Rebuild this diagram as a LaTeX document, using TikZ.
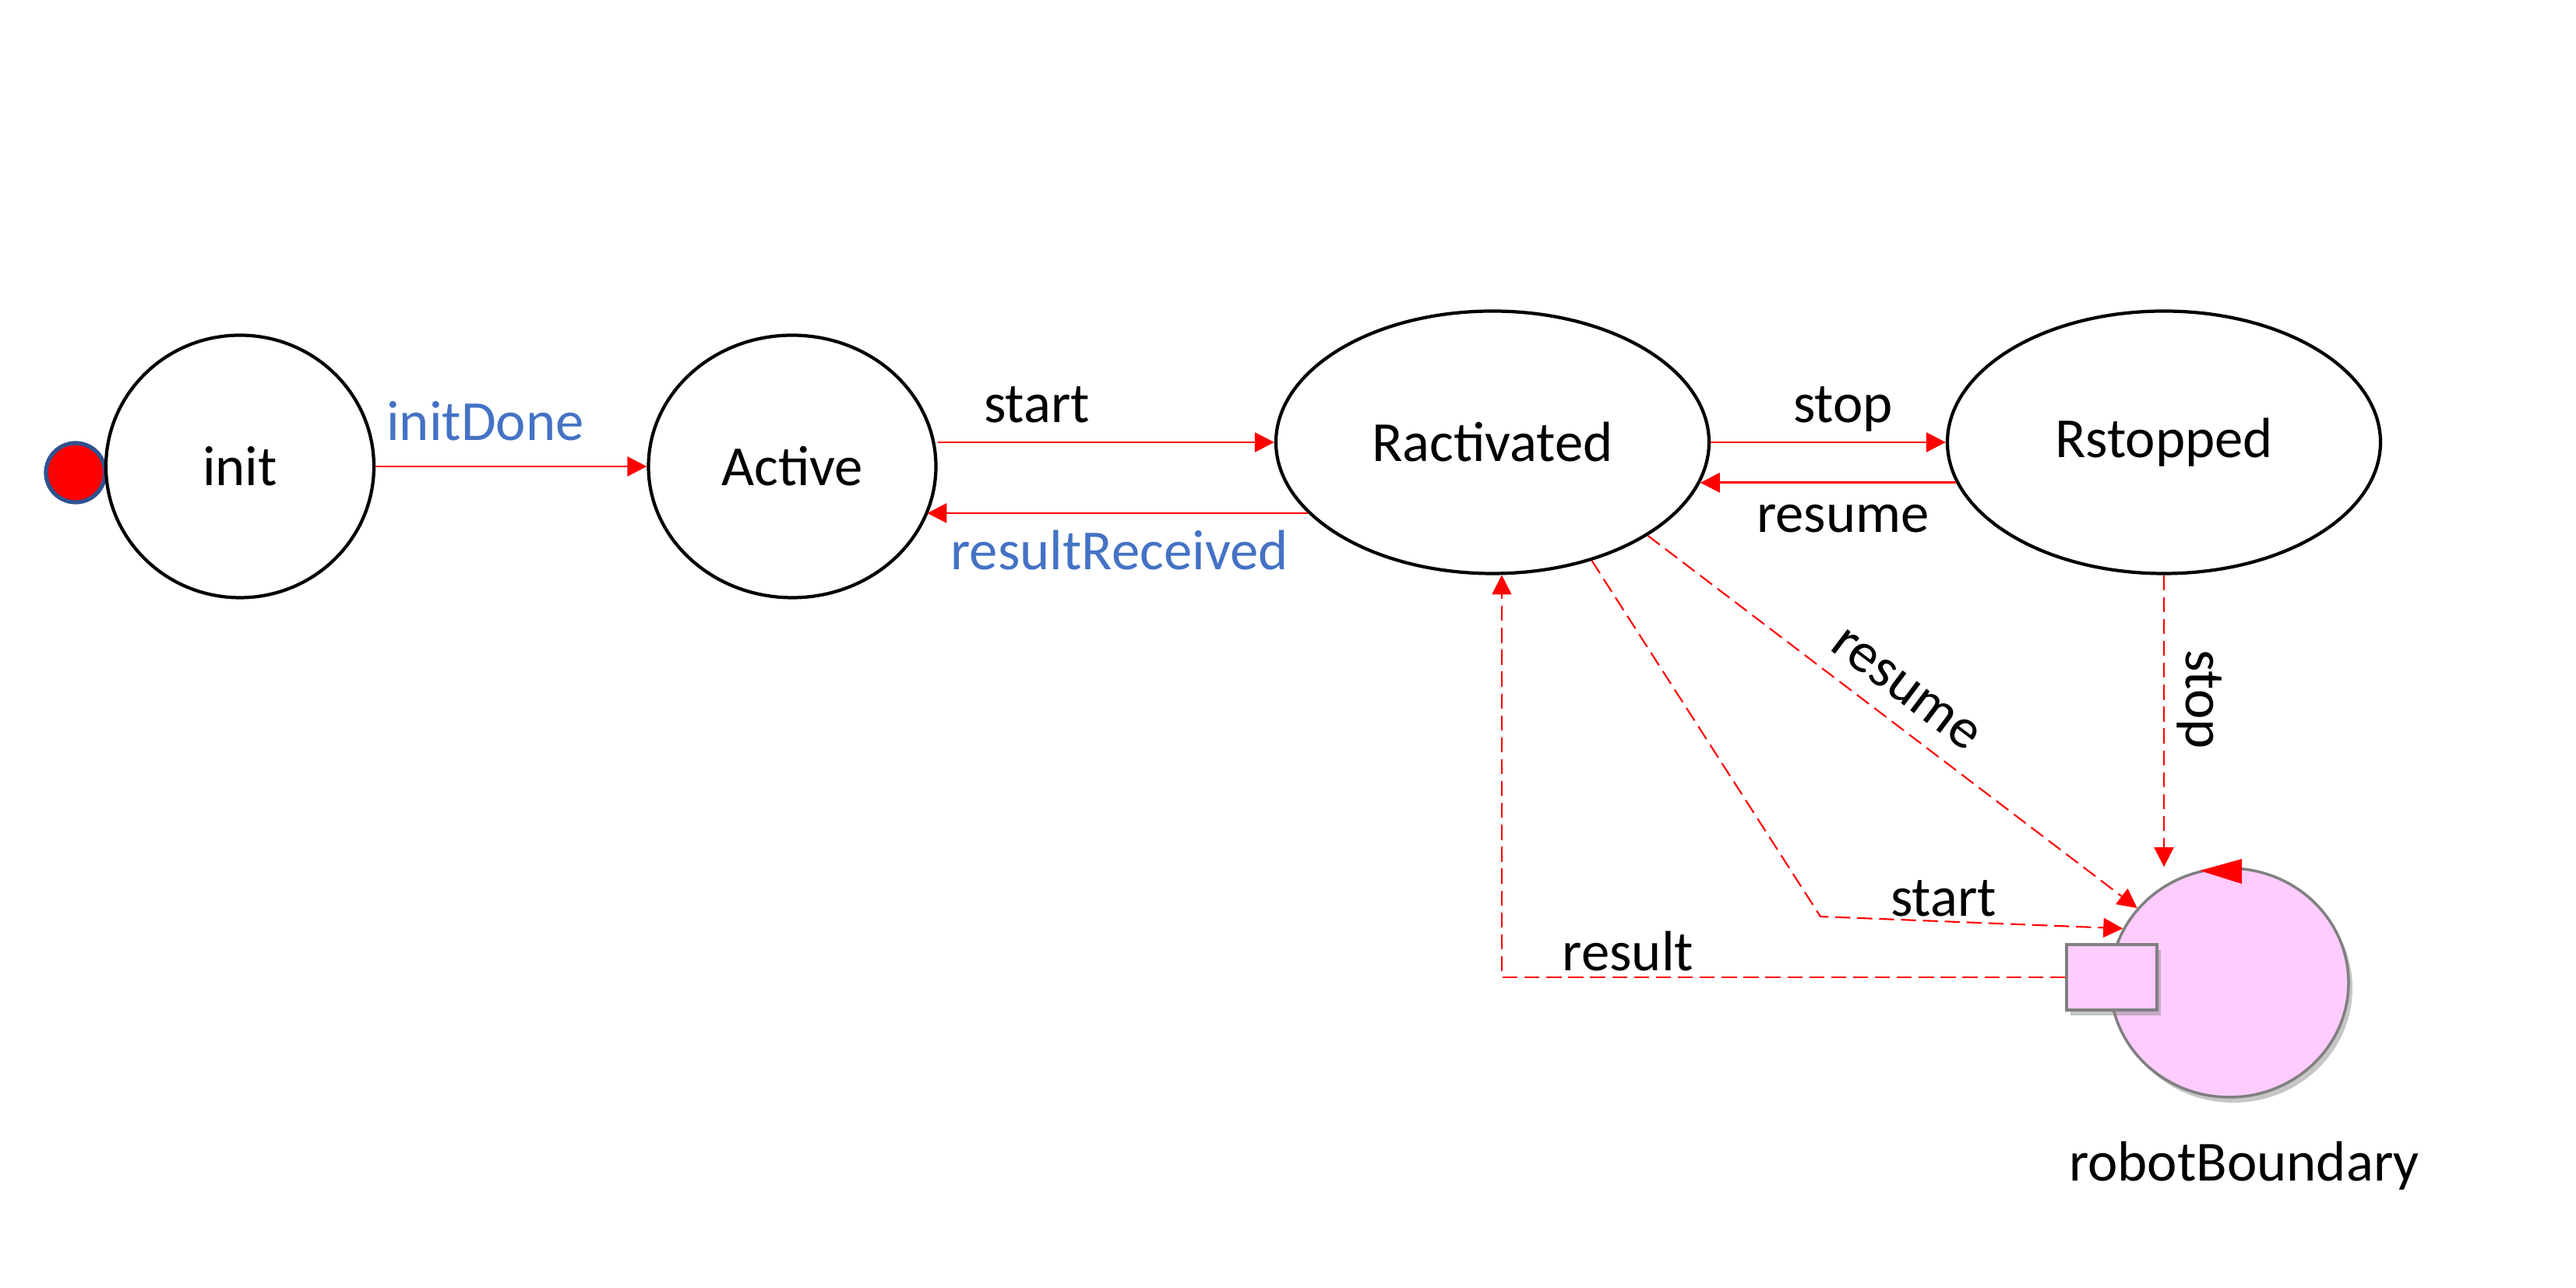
\documentclass[tikz,border=0pt]{standalone}
\usepackage{fontspec}
\setmainfont{Carlito}
\usetikzlibrary{arrows.meta,shapes.geometric,shadows}
\definecolor{lblblue}{HTML}{4472C4}
\definecolor{robotpink}{HTML}{FFCCFF}
\definecolor{dotborder}{HTML}{2F528F}

\begin{document}
\begin{tikzpicture}[every node/.style={font=\fontsize{20.7}{25}\selectfont},
	state/.style={ellipse,draw,line width=1.2pt,inner sep=0pt,minimum height=3.37cm},
	arr/.style={red,line width=0.8pt,-{Triangle[length=0.25cm,width=0.25cm]}},
	dsh/.style={red,line width=0.6pt,dash pattern=on 5.5pt off 2.5pt,-{Triangle[length=0.25cm,width=0.25cm]}}]
	\tikzset{robotpart/.style={fill=robotpink,draw=gray,line width=1pt,inner sep=0pt,
		drop shadow={shadow xshift=0.05cm,shadow yshift=-0.07cm,opacity=0.45}}}
	\useasboundingbox (0,0) rectangle (33.07,16.54);
	\node[circle,fill=red,draw=dotborder,line width=1.5pt,minimum size=0.76cm,inner sep=0pt] (start) at (0.97,10.47) {};
	\node[state,minimum width=3.44cm] (init)       at (3.08,10.55)  {init};
	\node[state,minimum width=3.69cm] (Active)     at (10.17,10.55) {Active};
	\node[state,minimum width=5.56cm] (Ractivated) at (19.16,10.86) {Ractivated};
	\node[state,minimum width=5.56cm] (Rstopped)   at (27.78,10.86) {Rstopped};
	\node[ellipse,robotpart,minimum width=3.06cm,minimum height=2.94cm] (Robot) at (28.62,3.92) {};
	\node[rectangle,robotpart,minimum width=1.16cm,minimum height=0.84cm] (Box) at (27.11,3.99) {};
	\fill[red] ([shift={(-0.38,1.44)}]Robot.center) -- ([shift={(0.16,1.59)}]Robot.center)
		-- ([shift={(0.16,1.27)}]Robot.center) -- cycle;
	\node (tRobot) at (28.81,1.57) {robotBoundary};
	% transitions
	\foreach \from/\to in {init/Active, Ractivated/Rstopped}
	\draw[arr] (\from) -- (\to);
	\draw[arr] (Active.east |- Ractivated.west) -- (Ractivated.west);
	\draw[arr] (Ractivated.201) -- (Active.340 |- Ractivated.201);
	\draw[arr] (Rstopped.191) -- (Ractivated.349 |- Rstopped.191);
	\node[text=lblblue] (tInitDone)       at (6.23,11.13)  {initDone};
	\node               (tStart)          at (13.31,11.34) {start};
	\node[text=lblblue] (tResultReceived) at (14.37,9.47)  {resultReceived};
	\node               (tStop)           at (23.66,11.29) {stop};
	\node               (tResume)         at (23.66,9.88)  {resume};
	% messages to the robot
	\coordinate (startBend) at (23.37,4.77);
	\draw[dsh] (Ractivated.329) -- (Robot.141);
	\draw[dsh] (Ractivated.310) -- (startBend) -- (Robot.153);
	\draw[dsh] (Rstopped.south) -- (Rstopped.south |- Robot.north);
	\draw[dsh] (Box.west) -| (Ractivated.274);
	\node[rotate=-37] (tResumeD) at (24.46,7.68) {resume};
	\node[rotate=-90] (tStopD)   at (28.24,7.56) {stop};
	\node             (tStartD)  at (24.95,5.00) {start};
	\node             (tResult)  at (20.90,4.32) {result};
\end{tikzpicture}
\end{document}
